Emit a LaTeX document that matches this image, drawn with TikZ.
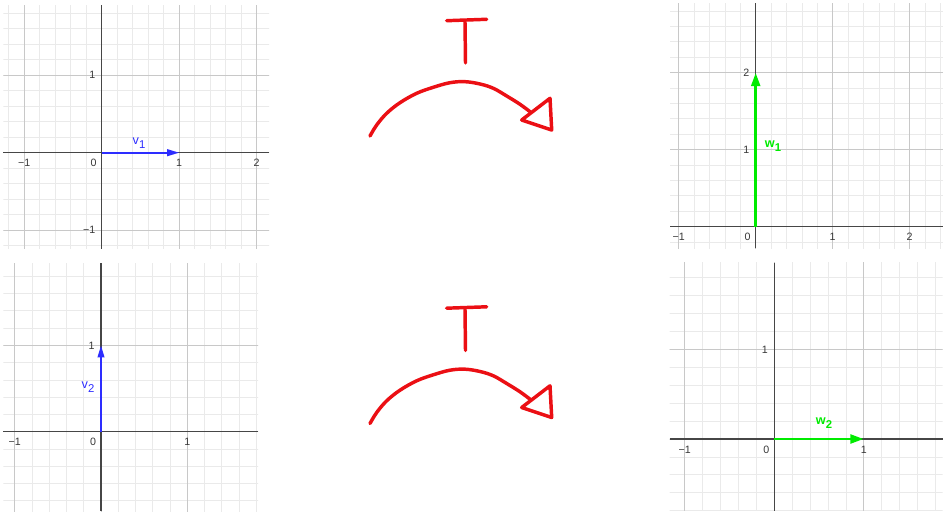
\documentclass[tikz,border=0pt]{standalone}
\usepackage{fontspec}
\setmainfont{Liberation Sans}
\usepackage{xcolor}
\usepackage{tikz}
\usetikzlibrary{arrows.meta}
\definecolor{gridmajor}{RGB}{200,200,200}
\definecolor{gridminor}{RGB}{234,234,234}
\definecolor{axisgray}{RGB}{70,70,70}
\definecolor{ticktext}{RGB}{55,55,55}
\definecolor{vecblue}{RGB}{45,45,255}
\definecolor{vecgreen}{RGB}{0,235,0}
\definecolor{penred}{RGB}{235,15,20}
\newcommand{\veclabel}[2]{{\fontsize{9.5}{10}\selectfont #1}\raisebox{-3pt}{\fontsize{8.5}{9}\selectfont #2}}

\begin{document}
\begin{tikzpicture}[
  x=0.75pt, y=-0.75pt,
  minor/.style={gridminor, line width=0.6pt},
  major/.style={gridmajor, line width=0.7pt},
  axis/.style={axisgray, line width=0.9pt},
  ticklabel/.style={font=\fontsize{8}{9}\selectfont, text=ticktext, inner sep=1pt},
  bluevec/.style={vecblue, line width=1.3pt, -{Triangle[length=9pt,width=5pt]}},
  greenvec/.style={vecgreen, line width=2.2pt, -{Triangle[length=10pt,width=6.5pt]}},
  veclab/.style={inner sep=0pt},
  pen/.style={penred, line width=2.6pt, line cap=round, line join=round}
]
  \useasboundingbox (0,0) rectangle (943,513);

  % the four coordinate grids
  \foreach \p/\ox/\oy/\u/\xa/\xb/\ya/\yb/\xl/\yl in {
      a/101.7/152.7/77.5/-1.27/2.16/-1.24/1.9/{-1/−1,1/1,2/2}/{-1/−1,1/1},
      b/755.7/226.7/77/-1.11/2.43/-0.28/2.9/{-1/−1,1/1,2/2}/{1/1,2/2},
      c/101/431.7/86.3/-1.13/1.82/-0.92/1.95/{-1/−1,1/1}/{1/1},
      d/774.3/439/89.5/-1.17/1.88/-0.8/1.97/{-1/−1,1/1}/{1/1}} {
    \pgfmathsetmacro\uu{\u*0.75}
    \begin{scope}[shift={(\ox,\oy)}, x=\uu pt, y=\uu pt]
      \begin{scope}
        \clip (\xa,\ya) rectangle (\xb,\yb);
        \foreach \i in {-15,...,15} {
          \draw[minor] (\i/5,-4) -- (\i/5,4);
          \draw[minor] (-4,\i/5) -- (4,\i/5);
        }
        \foreach \i in {-3,...,3} {
          \draw[major] (\i,-4) -- (\i,4);
          \draw[major] (-4,\i) -- (4,\i);
        }
      \end{scope}
      \draw[axis] (\xa,0) -- (\xb,0);
      \draw[axis] (0,\ya) -- (0,\yb);
      \coordinate (o\p) at (0,0);
      \coordinate (ex\p) at (1,0);
      \coordinate (ey\p) at (0,1);
      \coordinate (eyy\p) at (0,2);
      \node[ticklabel, anchor=north east, xshift=-2.6pt, yshift=-3.8pt] (zero\p) at (0,0) {0};
      \foreach \k/\t [count=\n] in \xl
        \node[ticklabel, anchor=north, yshift=-3.8pt] (xt\p\n) at (\k,0) {\t};
      \foreach \k/\t [count=\n] in \yl
        \node[ticklabel, anchor=east, xshift=-3.6pt] (yt\p\n) at (0,\k) {\t};
    \end{scope}
  }

  % vectors
  \draw[bluevec] (oa) -- (exa);
  \draw[greenvec] (ob) -- (eyyb);
  \draw[bluevec] (oc) -- (eyc);
  \draw[greenvec] (od) -- (exd);

  \node[veclab, text=vecblue] (v1) at (139,143) {\veclabel{v}{1}};
  \node[veclab, text=vecgreen] (w1) at (773,146) {\veclabel{\bfseries w}{\bfseries 1}};
  \node[veclab, text=vecblue] (v2) at (88,387) {\veclabel{v}{2}};
  \node[veclab, text=vecgreen] (w2) at (824,423) {\veclabel{\bfseries w}{\bfseries 2}};

  % hand drawn T arrows
  \foreach \dy in {0,287.5} {
    \begin{scope}[shift={(0,\dy)}]
      \draw[pen] (446.7,20.7) -- (486.7,19.3);
      \draw[pen] (465,22) -- (465.5,63);
      \draw[pen] plot[smooth, tension=0.6] coordinates {
        (370,136) (376.7,125) (386.7,113.3) (400,102.7) (416.7,93.3)
        (433.3,87.3) (450,82.7) (465,81.7) (480,84) (493.3,88.3)
        (506.7,96) (520,104.3) (530,111.7)};
      \draw[pen] (521.7,120) -- (550,98.3) -- (551.7,130) -- cycle;
    \end{scope}
  }
\end{tikzpicture}
\end{document}
